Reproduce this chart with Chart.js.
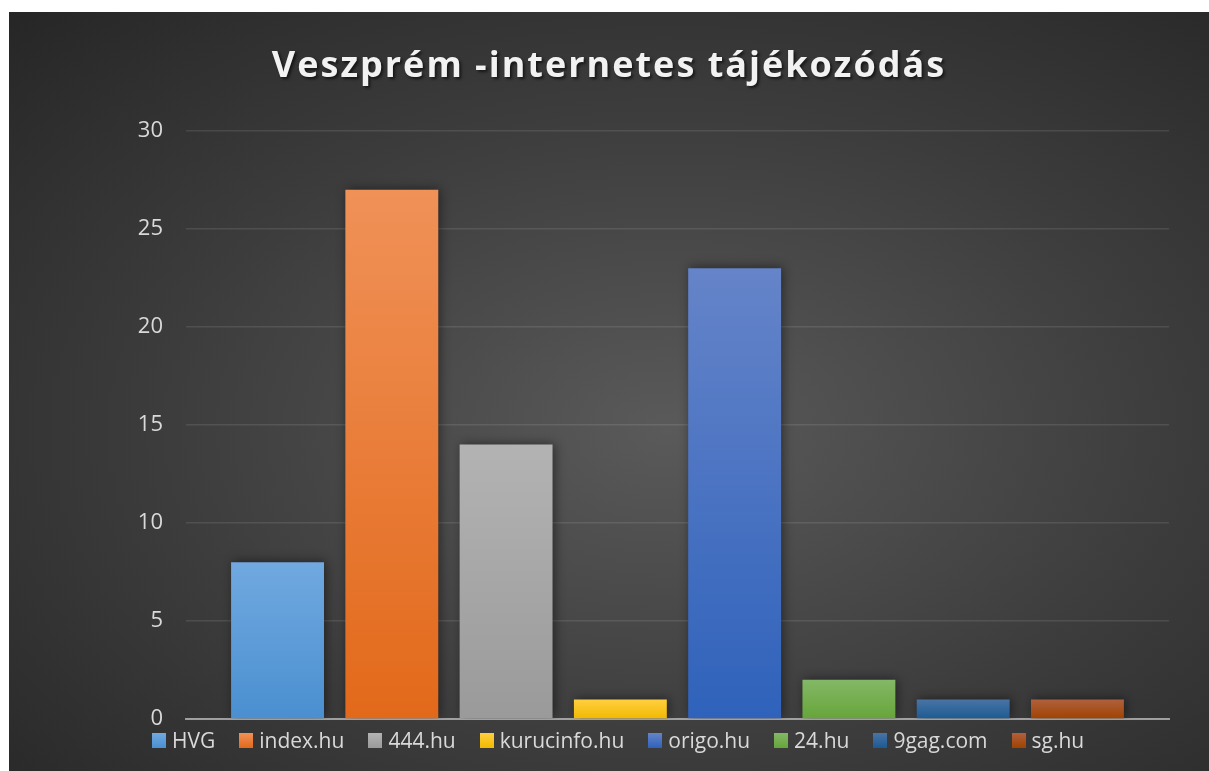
<!DOCTYPE html>
<html lang="hu">
<head>
    <meta charset="UTF-8">
    <title>Veszprém -internetes tájékozódás</title>
    <script src="https://cdn.jsdelivr.net/npm/chart.js"></script>
    <style>
        html, body { margin: 0; padding: 0; background: #fff; overflow: hidden; }
        #panel {
            position: absolute; left: 9px; top: 12px; width: 1200px; height: 759px;
            background: radial-gradient(ellipse farthest-corner at 55% 55%, #5a5a5a 0%, #3c3c3c 55%, #262626 100%);
            overflow: hidden;
            font-family: "Open Sans", sans-serif;
        }
        #title {
            position: absolute; left: 0; top: 27px; width: 100%; text-align: center;
            font-size: 36px; font-weight: bold; letter-spacing: 2px;
            color: #f2f2f2; text-shadow: 2px 2px 3px rgba(0,0,0,0.6);
            margin: 0;
        }
        #chartBox { position: absolute; left: 0; top: 0; width: 1200px; height: 759px; }
        #legend {
            position: absolute; left: 143px; top: 716px;
            display: flex; align-items: center; margin: 0; padding: 0; list-style: none;
        }
        #legend li { display: flex; align-items: center; margin-right: 24px; }
        #legend .box { width: 14px; height: 15px; margin-right: 6px; }
        #legend .txt { font-size: 21px; color: #d9d9d9; line-height: 24px; }
    </style>
</head>
<body>
    <div id="panel">
        <div id="chartBox"><canvas id="myChart" width="1200" height="759"></canvas></div>
        <h1 id="title">Veszprém -internetes tájékozódás</h1>
        <ul id="legend"></ul>
    </div>

    <script>
        // data
        var categories = [''];
        var sources = ['HVG', 'index.hu', '444.hu', 'kurucinfo.hu', 'origo.hu', '24.hu', '9gag.com', 'sg.hu'];
        var counts = [8, 27, 14, 1, 23, 2, 1, 1];
        var yTicks = [0, 5, 10, 15, 20, 25, 30];

        // bar colours, light at the top and dark at the bottom
        var topColors = ['#71a9e0', '#f09158', '#b3b3b3', '#ffcf40', '#6584c9', '#84b866', '#4a74a4', '#b0603e'];
        var bottomColors = ['#4a8fd0', '#e2691a', '#9a9a9a', '#f2b900', '#2f62bb', '#66a53a', '#1c5a93', '#a04300'];

        function barGradient(c) {
            var i = c.datasetIndex;
            var chart = c.chart;
            var y = chart.scales.y;
            if (!chart.chartArea || !y || c.raw == null) return bottomColors[i];
            var top = y.getPixelForValue(c.raw);
            var base = y.getPixelForValue(0);
            if (!isFinite(top) || !isFinite(base) || top === base) return bottomColors[i];
            var g = chart.ctx.createLinearGradient(0, top, 0, base);
            g.addColorStop(0, topColors[i]);
            g.addColorStop(1, bottomColors[i]);
            return g;
        }

        var barShadow = {
            id: 'barShadow',
            beforeDatasetsDraw: function (chart) {
                var ctx = chart.ctx;
                ctx.save();
                ctx.shadowColor = 'rgba(0,0,0,0.45)';
                ctx.shadowBlur = 10;
                ctx.shadowOffsetX = 2;
                ctx.shadowOffsetY = -1;
            },
            afterDatasetsDraw: function (chart) {
                chart.ctx.restore();
            }
        };

        var htmlLegend = {
            id: 'htmlLegend',
            afterUpdate: function (chart) {
                var ul = document.getElementById('legend');
                ul.innerHTML = '';
                chart.data.datasets.forEach(function (ds, i) {
                    var li = document.createElement('li');
                    var box = document.createElement('span');
                    box.className = 'box';
                    box.style.background = 'linear-gradient(' + topColors[i] + ', ' + bottomColors[i] + ')';
                    var txt = document.createElement('span');
                    txt.className = 'txt';
                    txt.textContent = ds.label;
                    li.appendChild(box);
                    li.appendChild(txt);
                    ul.appendChild(li);
                });
            }
        };

        var datasets = sources.map(function (name, i) {
            return {
                label: name,
                data: [counts[i]],
                backgroundColor: barGradient,
                borderWidth: 0,
                categoryPercentage: 0.93,
                barPercentage: 0.813
            };
        });

        var ctx = document.getElementById('myChart').getContext('2d');
        var myChart = new Chart(ctx, {
            type: 'bar',
            data: { labels: categories, datasets: datasets },
            plugins: [barShadow, htmlLegend],
            options: {
                responsive: false,
                animation: false,
                layout: { padding: { left: 117, right: 40, top: 119, bottom: 52 } },
                plugins: {
                    legend: { display: false },
                    title: { display: false },
                    tooltip: { enabled: false }
                },
                scales: {
                    x: {
                        z: 1,
                        ticks: { display: false },
                        grid: { display: false, drawTicks: false },
                        border: { display: true, color: 'rgba(200,200,200,0.7)', width: 2 }
                    },
                    y: {
                        min: 0,
                        max: 30,
                        afterFit: function (scale) { scale.width = 60; },
                        afterBuildTicks: function (scale) {
                            scale.ticks = yTicks.map(function (v) { return { value: v }; });
                        },
                        ticks: {
                            color: '#d9d9d9',
                            padding: 23,
                            font: { family: 'Open Sans', size: 22 }
                        },
                        grid: { color: 'rgba(255,255,255,0.1)', lineWidth: 1.5, drawTicks: false },
                        border: { display: false }
                    }
                }
            }
        });
    </script>
</body>
</html>
